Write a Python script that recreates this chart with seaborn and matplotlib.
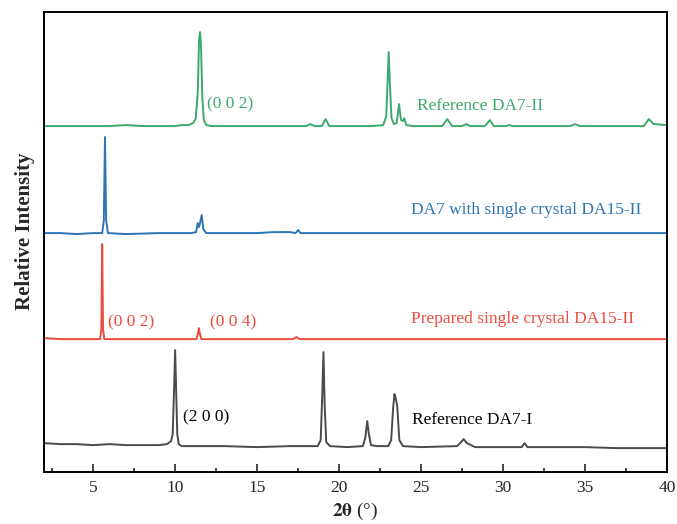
import matplotlib
matplotlib.use("Agg")
import matplotlib.pyplot as plt
import seaborn as sns
import pandas as pd
from matplotlib.ticker import MultipleLocator

# ---------------- data ----------------
# Reference DA7-I (black)
x_da7_1 = [2.0, 3.0, 4.0, 5.0, 6.0, 7.0, 8.0, 9.0, 9.5, 9.75, 9.85, 9.93, 10.0, 10.06, 10.13, 10.22, 10.4,
           11.5, 13.0, 15.0, 17.0, 18.7, 18.88, 18.97, 19.05, 19.12, 19.22, 19.45, 20.5, 21.45, 21.6, 21.72,
           21.82, 21.95, 22.3, 23.0, 23.18, 23.3, 23.38, 23.46, 23.55, 23.68, 23.9, 25.0, 27.2, 27.45, 27.6,
           27.8, 28.3, 30.0, 31.15, 31.32, 31.5, 33.0, 35.0, 37.0, 39.0, 40.0]
y_da7_1 = [5, 4, 4, 3, 4, 3, 3, 3, 4, 7, 14, 55, 98, 60, 14, 4, 2,
           2, 2, 1, 2, 2, 8, 50, 96, 45, 6, 2, 1, 2, 10, 27, 14, 3, 2, 2, 8, 40, 54, 50, 42, 8, 2, 1, 2, 6, 9,
           5, 1, 1, 1, 5, 1, 1, 1, 0, 0, 0]

# Prepared single crystal DA15-II (red)
x_da15_2 = [2.0, 3.0, 4.0, 5.0, 5.42, 5.5, 5.55, 5.6, 5.68, 6.5, 8.0, 10.0, 11.3, 11.4, 11.45, 11.5, 11.6,
            13.0, 15.0, 17.2, 17.4, 17.6, 20.0, 25.0, 30.0, 35.0, 40.0]
y_da15_2 = [3, 2, 2, 2, 2, 12, 97, 12, 2, 2, 2, 2, 2, 8, 13, 8, 2,
            2, 2, 2, 4, 2, 2, 2, 2, 2, 2]

# DA7 with single crystal DA15-II (blue)
x_mix = [2.0, 3.0, 4.0, 5.0, 5.55, 5.65, 5.72, 5.79, 5.9, 7.0, 9.0, 11.0, 11.28, 11.38, 11.45, 11.52, 11.62,
         11.72, 11.9, 13.0, 15.0, 16.0, 17.0, 17.35, 17.5, 17.65, 18.5, 20.0, 25.0, 30.0, 35.0, 40.0]
y_mix = [2, 2, 1, 2, 2, 15, 98, 15, 2, 1, 2, 2, 3, 12, 8, 12, 20,
         6, 2, 2, 2, 3, 3, 2, 5, 2, 2, 2, 2, 2, 2, 2]

# Reference DA7-II (green)
x_da7_2 = [2.0, 3.0, 4.0, 5.0, 6.0, 7.0, 8.0, 9.0, 10.0, 10.4, 10.8, 11.1, 11.25, 11.38, 11.46, 11.52, 11.58,
           11.66, 11.75, 11.9, 12.2, 14.0, 16.0, 18.0, 18.25, 18.5, 18.95, 19.18, 19.4, 20.5, 22.0, 22.7,
           22.88, 22.97, 23.03, 23.1, 23.2, 23.35, 23.52, 23.66, 23.78, 23.9, 23.98, 24.1, 24.5, 26.3, 26.6,
           26.9, 27.5, 27.78, 28.0, 28.9, 29.2, 29.45, 30.2, 30.4, 30.6, 32.0, 34.1, 34.4, 34.7, 37.0, 38.6,
           38.9, 39.2, 40.0]
y_da7_2 = [2, 2, 2, 2, 2, 3, 2, 2, 2, 3, 3, 5, 9, 35, 88, 96, 82,
           30, 8, 3, 2, 2, 2, 2, 4, 2, 2, 9, 2, 2, 2, 3,
           12, 50, 76, 45, 10, 4, 5, 24, 8, 7, 10, 3, 2, 2, 9,
           2, 2, 4, 2, 2, 8, 2, 2, 3, 2, 2, 2, 4, 2, 2, 2,
           9, 4, 3]

series_names = ["Reference DA7-I", "Prepared single crystal DA15-II",
                "DA7 with single crystal DA15-II", "Reference DA7-II"]
offsets = [24, 131, 237, 344]
colors = ["#4a4a4a", "#ee4b3e", "#2e75b6", "#3daa6b"]

# ---------------- plot ----------------
sns.set_theme(style="ticks")
plt.rcParams["font.family"] = ["Liberation Serif", "DejaVu Serif"]
plt.rcParams["mathtext.fontset"] = "stix"

fig = plt.figure(figsize=(6.77, 5.24), dpi=100)
ax = fig.add_axes([0.065, 0.099, 0.92, 0.878])

all_x = [x_da7_1, x_da15_2, x_mix, x_da7_2]
all_y = [y_da7_1, y_da15_2, y_mix, y_da7_2]
for name, xs, ys, off, c in zip(series_names, all_x, all_y, offsets, colors):
    df = pd.DataFrame({"2theta": xs, "I": [v + off for v in ys]})
    sns.lineplot(data=df, x="2theta", y="I", ax=ax, color=c, lw=1.4,
                 estimator=None, sort=False)

ax.set_xlim(2, 40)
ax.set_ylim(0, 460)
ax.set_yticks([])
ax.xaxis.set_major_locator(MultipleLocator(5))
ax.xaxis.set_minor_locator(MultipleLocator(2.5))
ax.tick_params(axis="x", which="major", direction="in", length=6, width=1.2,
               labelsize=12.5, pad=6, top=False)
ax.tick_params(axis="x", which="minor", direction="in", length=3, width=1.2, top=False)
for s in ax.spines.values():
    s.set_linewidth(1.4)
    s.set_color("black")

ax.set_xlabel(r"$\mathbf{2\theta}$ (°)", fontsize=14, labelpad=3)
ax.set_ylabel("Relative Intensity", fontsize=15, fontweight="bold")
ax.yaxis.set_label_coords(-0.015, 0.524)

fs = 12.5
ax.text(11.97, 368, "(0 0 2)", color=colors[3], fontsize=fs, va="center", ha="left")
ax.text(24.77, 366, "Reference DA7-II", color=colors[3], fontsize=fs, va="center", ha="left")
ax.text(24.41, 262, "DA7 with single crystal DA15-II", color=colors[2], fontsize=fs, va="center", ha="left")
ax.text(24.41, 153, "Prepared single crystal DA15-II", color=colors[1], fontsize=fs, va="center", ha="left")
ax.text(5.93, 150, "(0 0 2)", color=colors[1], fontsize=fs, va="center", ha="left")
ax.text(12.15, 150, "(0 0 4)", color=colors[1], fontsize=fs, va="center", ha="left")
ax.text(10.45, 55, "(2 0 0)", color="black", fontsize=fs, va="center", ha="left")
ax.text(24.47, 52, "Reference DA7-I", color="black", fontsize=fs, va="center", ha="left")

fig.savefig("out.png", dpi=100)
